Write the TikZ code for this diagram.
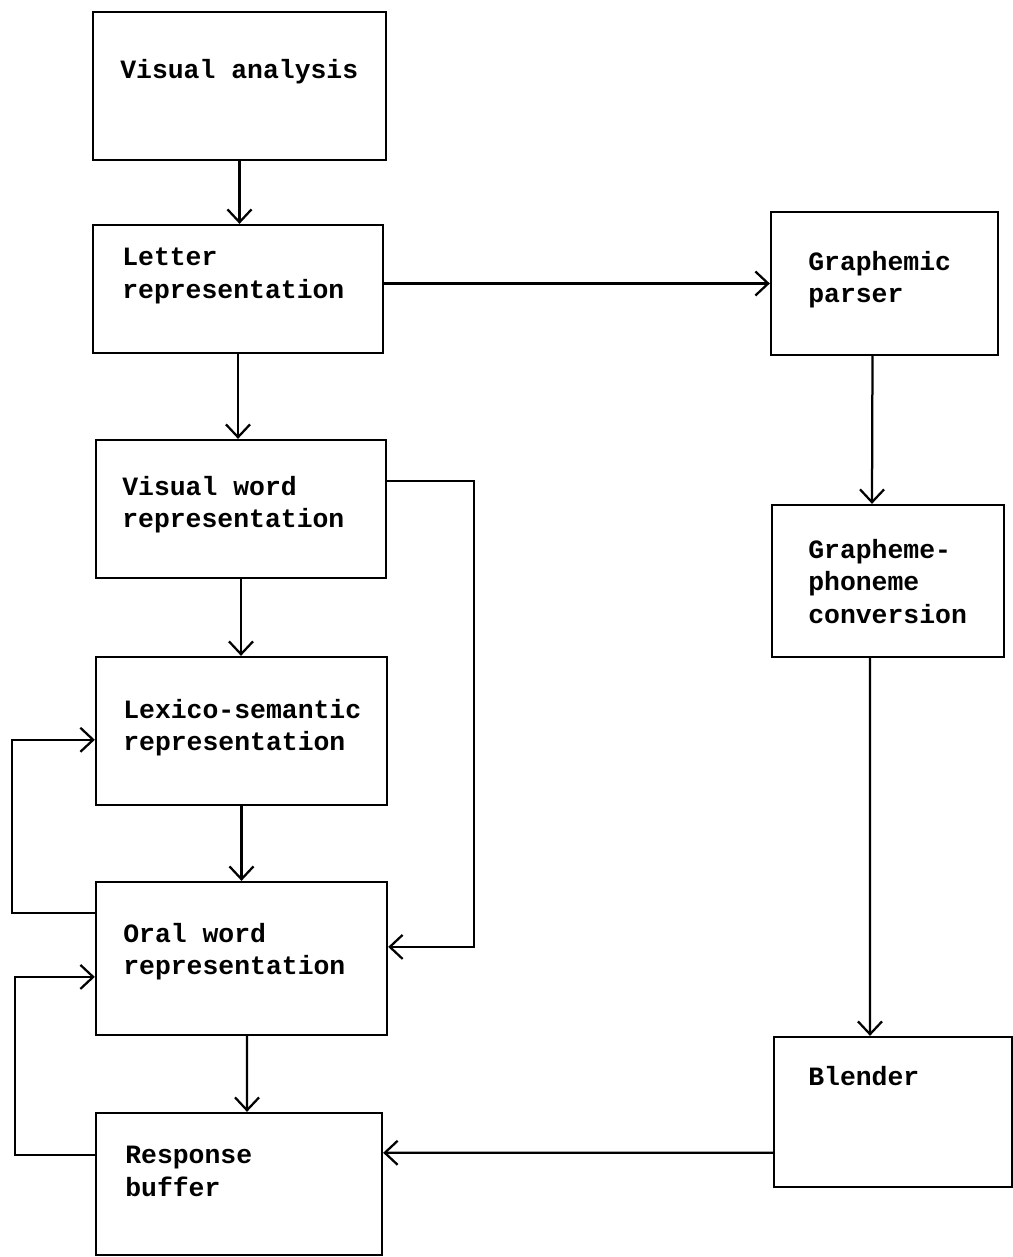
\documentclass[tikz,border=0pt]{standalone}
\usepackage{fontspec}
\setmonofont{Liberation Mono}
\usetikzlibrary{arrows.meta}

\begin{document}
\begin{tikzpicture}[
        x=0.025cm, y=-0.025cm,
        font=\fontsize{18.8}{23}\selectfont\ttfamily\bfseries,
        >={Straight Barb[length=0.32cm, width=0.6cm]},
        box/.style 2 args={draw, line width=1.6pt, inner sep=0pt,
                           minimum width=#1, minimum height=#2},
        txt/.style={anchor=north west, align=left, inner sep=0pt},
        arr/.style={->, line width=1.6pt}
    ]
    \useasboundingbox (0,0) rectangle (1013,1257);

    %% ---- left column: visual route ------------------------------------------
    \node[box={7.325cm}{3.7cm}]   (va) at (239.5,86)   {};
    \node[box={7.25cm}{3.2cm}]    (lr) at (238,289)    {};
    \node[box={7.25cm}{3.45cm}]   (vw) at (241,509)    {};
    \node[box={7.275cm}{3.7cm}]   (ls) at (241.5,731)  {};
    \node[box={7.275cm}{3.825cm}] (ow) at (241.5,958.5) {};
    \node[box={7.15cm}{3.55cm}]   (rb) at (239,1184)   {};

    %% ---- right column: sublexical route -------------------------------------
    \node[box={5.675cm}{3.575cm}] (gp)  at (884.5,283.5) {};
    \node[box={5.8cm}{3.8cm}]     (gpc) at (888,581)     {};
    \node[box={5.95cm}{3.75cm}]   (bl)  at (893,1112)    {};

    % box texts, typed at the top left
    \node[txt] (vaT)  at (120,59)   {Visual analysis};
    \node[txt] (lrT)  at (122,248)  {Letter\\representation};
    \node[txt] (vwT)  at (122,476)  {Visual word\\representation};
    \node[txt] (lsT)  at (123,699)  {Lexico-semantic\\representation};
    \node[txt] (owT)  at (123,923)  {Oral word\\representation};
    \node[txt] (rbT)  at (125,1146) {Response\\buffer};
    \node[txt] (gpT)  at (808,251)  {Graphemic\\parser};
    \node[txt] (gpcT) at (808,539)  {Grapheme-\\phoneme\\conversion};
    \node[txt] (blT)  at (808,1066) {Blender};

    %% ---- connectors ---------------------------------------------------------
    \draw[arr] (va.south) -- (va.south |- lr.north);
    \draw[arr] (lr.south) -- (lr.south |- vw.north);
    \draw[arr] (vw.south) -- (vw.south |- ls.north);
    \draw[arr] (ls.south) -- (ls.south |- ow.north);
    \draw[arr] ([xshift=0.14cm]ow.south) -- ([xshift=0.2cm]rb.north);
    \draw[arr] (gp.west -| lr.east) -- (gp.west);
    \draw[arr] ([xshift=-0.3cm]gp.south) -- ([xshift=-0.4cm]gpc.north);
    \draw[arr] ([xshift=-0.45cm]gpc.south) -- ([xshift=-0.575cm]bl.north);
    \draw[arr] ([yshift=-1.02cm]bl.west) -- ([yshift=0.78cm]rb.east);

    % feedback and bypass loops
    \draw[arr] ([yshift=0.7cm]vw.east) -- ++(87,0) |- ([yshift=0.29cm]ow.east);
    \draw[arr] ([yshift=1.14cm]ow.west) -- ++(-83,0) |- ([yshift=-0.22cm]ls.west);
    \draw[arr] ([yshift=0.72cm]rb.west) -- ++(-80,0) |- ([yshift=-0.46cm]ow.west);
\end{tikzpicture}
\end{document}
